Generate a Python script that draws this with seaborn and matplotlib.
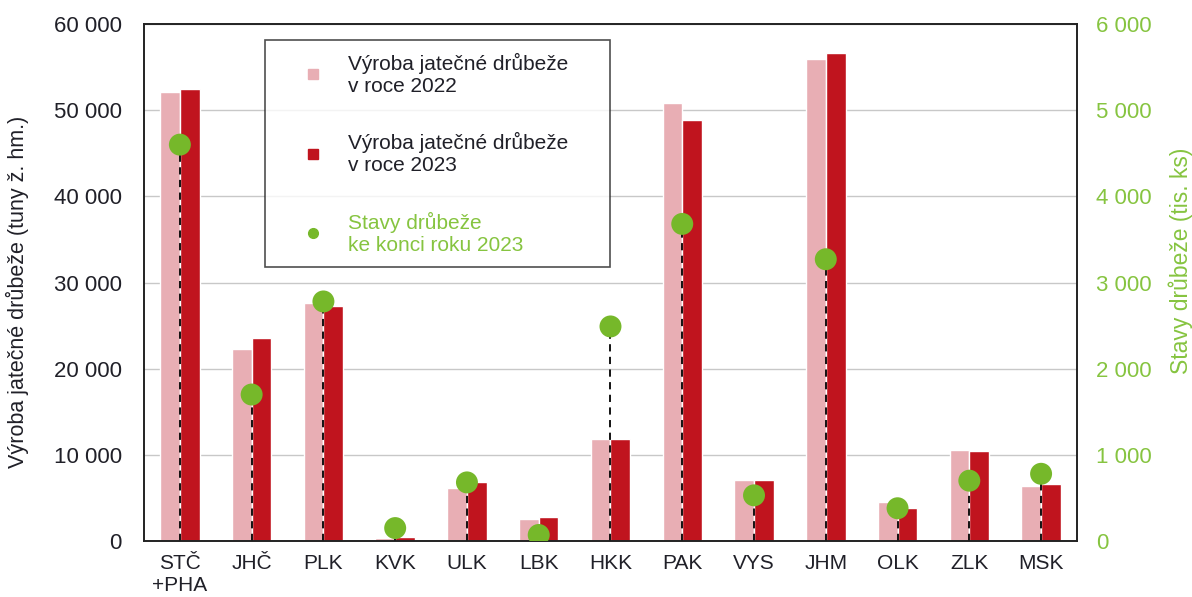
import pandas as pd
import numpy as np
import matplotlib
matplotlib.use("Agg")
import matplotlib.pyplot as plt
import seaborn as sns
from matplotlib.lines import Line2D
from matplotlib.ticker import FuncFormatter

sns.set_theme(style="white")
plt.rcParams['font.family'] = ['Liberation Sans', 'DejaVu Sans']

# Data
kraje = ['STČ\n+PHA', 'JHČ', 'PLK', 'KVK', 'ULK', 'LBK', 'HKK', 'PAK', 'VYS', 'JHM', 'OLK', 'ZLK', 'MSK']
vyroba_2022 = [52100, 22300, 27600, 300, 6200, 2500, 11800, 50800, 7100, 55900, 4500, 10600, 6400]
vyroba_2023 = [52400, 23600, 27300, 500, 6900, 2800, 11800, 48900, 7100, 56600, 3800, 10400, 6600]
stavy_2023 = [4600, 1700, 2780, 150, 680, 70, 2490, 3680, 530, 3270, 380, 700, 780]

c_2022 = '#E8AEB4'
c_2023 = '#C0141E'
c_green = '#76B82A'
c_green_txt = '#86C440'
c_text = '#202028'

df = pd.DataFrame({
    'kraj': kraje * 2,
    'rok': ['2022'] * len(kraje) + ['2023'] * len(kraje),
    'vyroba': vyroba_2022 + vyroba_2023,
})
df_stavy = pd.DataFrame({'kraj': kraje, 'stavy': stavy_2023})

fig = plt.figure(figsize=(11.92, 5.97), dpi=100)
ax = fig.add_axes([0.1208, 0.0938, 0.7827, 0.866])

sns.barplot(data=df, x='kraj', y='vyroba', hue='rok', order=kraje,
            palette={'2022': c_2022, '2023': c_2023}, width=0.55, gap=0,
            saturation=1, legend=False, ax=ax)

ax.set_ylim(0, 60000)
ax.set_yticks(np.arange(0, 60001, 10000))
fmt = FuncFormatter(lambda v, p: f"{int(v):,}".replace(",", " "))
ax.yaxis.set_major_formatter(fmt)
ax.yaxis.grid(True, color='#C8C8C8', linewidth=1)
ax.set_axisbelow(True)
ax.set_xlabel('')
ax.set_ylabel('Výroba jatečné drůbeže (tuny ž. hm.)', fontsize=15.5, color=c_text)
ax.yaxis.set_label_coords(-0.123, 0.482)
ax.tick_params(axis='y', labelsize=16, colors=c_text, length=0, pad=16)
ax.tick_params(axis='x', labelsize=15, colors=c_text, length=0, pad=9)
for s in ax.spines.values():
    s.set_color('#222222')
    s.set_linewidth(1.2)

ax2 = ax.twinx()
pos = np.arange(len(kraje))
ax2.vlines(pos, 0, stavy_2023, colors='black', linestyles=(0, (4, 3)), linewidth=1.3, zorder=2)
sns.scatterplot(data=df_stavy, x='kraj', y='stavy', color=c_green, s=250,
                edgecolor='none', zorder=3, ax=ax2, legend=False)
ax2.set_ylim(0, 6000)
ax2.set_yticks(np.arange(0, 6001, 1000))
ax2.yaxis.set_major_formatter(fmt)
ax2.set_ylabel('Stavy drůbeže (tis. ks)', fontsize=16.5, color=c_green_txt)
ax2.yaxis.set_label_coords(1.098, 0.542)
ax2.tick_params(axis='y', labelsize=16, colors=c_green_txt, length=0, pad=14)
ax2.set_xlim(-0.5, len(kraje) - 0.5)
ax2.grid(False)
for s in ax2.spines.values():
    s.set_color('#222222')
    s.set_linewidth(1.2)

handles = [
    Line2D([], [], marker='s', linestyle='none', color=c_2022, markersize=7),
    Line2D([], [], marker='s', linestyle='none', color=c_2023, markersize=7),
    Line2D([], [], marker='o', linestyle='none', color=c_green, markersize=7),
]
labels = ['Výroba jatečné drůbeže\nv roce 2022', 'Výroba jatečné drůbeže\nv roce 2023',
          'Stavy drůbeže\nke konci roku 2023']
leg = ax2.legend(handles, labels, loc='upper left', bbox_to_anchor=(0.1297, 0, 0.3698, 0.969),
                 mode='expand', fontsize=15, frameon=True, fancybox=False, edgecolor='#222222',
                 borderpad=0.6, labelspacing=1.75, handlelength=3.4, handletextpad=0.0,
                 borderaxespad=0)
leg.get_frame().set_linewidth(1.2)
for t, c in zip(leg.get_texts(), [c_text, c_text, c_green_txt]):
    t.set_color(c)

plt.savefig('out.png', dpi=100)
